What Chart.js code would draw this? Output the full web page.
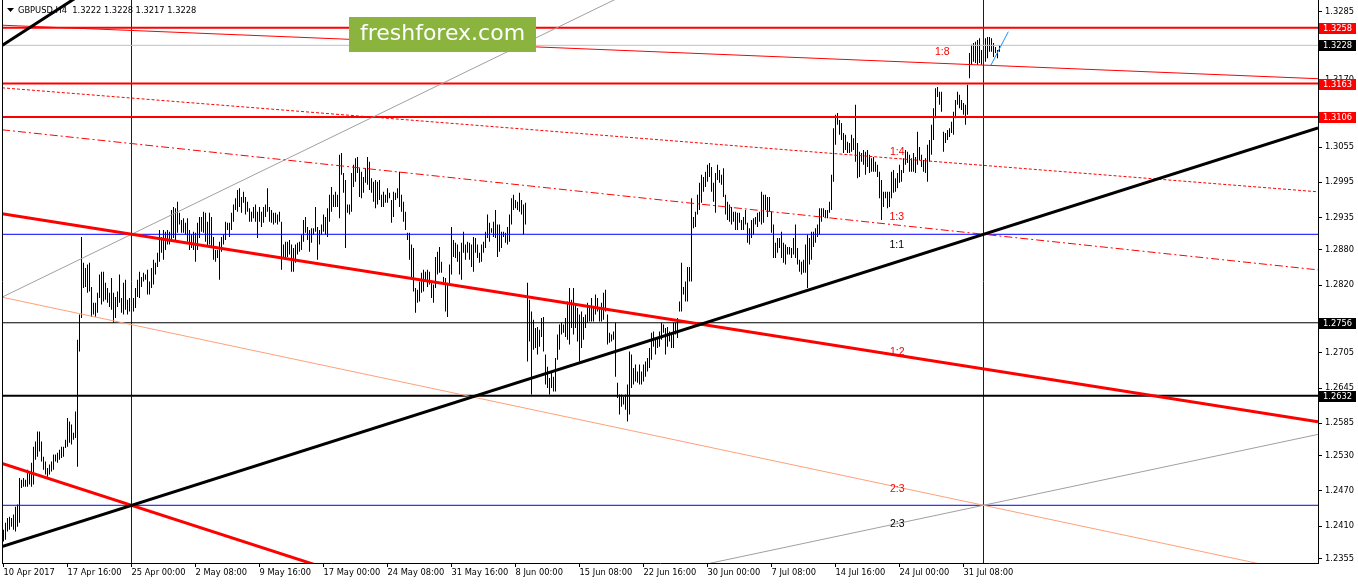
<!DOCTYPE html>
<html>
<head>
<meta charset="utf-8">
<title>GBPUSD,H4</title>
<script src="https://cdn.jsdelivr.net/npm/chart.js@4.4.0/dist/chart.umd.min.js"></script>
<style>
  html, body { margin: 0; padding: 0; background: #fff; }
  #wrap { width: 1358px; height: 584px; position: relative; }
</style>
</head>
<body>
<div id="wrap"><canvas id="gbpChart"></canvas></div>
<script>
// H4 bars (high / low), 10 Apr 08:00 .. 3 Aug 08:00, split by month
const aprHigh = [
  1.2404, 1.2416, 1.2424, 1.2426, 1.2424, 1.2430, 1.2443, 1.2447, 1.2492, 1.2489,
  1.2492, 1.2489, 1.2506, 1.2503, 1.2518, 1.2545, 1.2554, 1.2571, 1.2571, 1.2554,
  1.2528, 1.2520, 1.2509, 1.2515, 1.2520, 1.2532, 1.2532, 1.2535, 1.2540, 1.2545,
  1.2545, 1.2557, 1.2594, 1.2588, 1.2583, 1.2569, 1.2605, 1.2727, 1.2770, 1.2902,
  1.2858, 1.2849, 1.2855, 1.2858, 1.2817, 1.2790, 1.2790, 1.2807, 1.2838, 1.2843,
  1.2843, 1.2824, 1.2815, 1.2807, 1.2832, 1.2807, 1.2800, 1.2809, 1.2838, 1.2798,
  1.2824, 1.2829, 1.2795, 1.2798, 1.2790, 1.2798, 1.2815, 1.2829, 1.2843, 1.2834,
  1.2841, 1.2838, 1.2846, 1.2826, 1.2849, 1.2863, 1.2858, 1.2875, 1.2914, 1.2902,
  1.2914, 1.2911, 1.2914, 1.2911, 1.2948, 1.2953, 1.2951, 1.2962
];
const aprLow = [
  1.2384, 1.2387, 1.2401, 1.2404, 1.2409, 1.2404, 1.2401, 1.2409, 1.2416, 1.2475,
  1.2477, 1.2477, 1.2477, 1.2481, 1.2477, 1.2481, 1.2523, 1.2528, 1.2537, 1.2520,
  1.2506, 1.2498, 1.2494, 1.2498, 1.2503, 1.2506, 1.2520, 1.2518, 1.2523, 1.2526,
  1.2528, 1.2543, 1.2545, 1.2552, 1.2549, 1.2557, 1.2560, 1.2511, 1.2707, 1.2764,
  1.2815, 1.2817, 1.2807, 1.2809, 1.2766, 1.2770, 1.2766, 1.2773, 1.2798, 1.2787,
  1.2792, 1.2795, 1.2790, 1.2783, 1.2778, 1.2756, 1.2764, 1.2783, 1.2790, 1.2773,
  1.2770, 1.2778, 1.2770, 1.2775, 1.2773, 1.2775, 1.2781, 1.2800, 1.2798, 1.2817,
  1.2826, 1.2829, 1.2804, 1.2804, 1.2815, 1.2821, 1.2838, 1.2851, 1.2860, 1.2875,
  1.2863, 1.2880, 1.2889, 1.2889, 1.2897, 1.2900, 1.2894, 1.2909
];
const mayHigh = [
  1.2943, 1.2931, 1.2934, 1.2926, 1.2934, 1.2914, 1.2906, 1.2911, 1.2909, 1.2926,
  1.2936, 1.2936, 1.2945, 1.2943, 1.2928, 1.2943, 1.2936, 1.2902, 1.2880, 1.2880,
  1.2894, 1.2902, 1.2906, 1.2928, 1.2926, 1.2926, 1.2943, 1.2957, 1.2968, 1.2982,
  1.2985, 1.2970, 1.2979, 1.2970, 1.2962, 1.2951, 1.2945, 1.2953, 1.2957, 1.2945,
  1.2953, 1.2945, 1.2953, 1.2957, 1.2985, 1.2953, 1.2948, 1.2943, 1.2943, 1.2940,
  1.2945, 1.2928, 1.2889, 1.2894, 1.2894, 1.2897, 1.2889, 1.2883, 1.2889, 1.2892,
  1.2894, 1.2906, 1.2931, 1.2936, 1.2919, 1.2914, 1.2917, 1.2917, 1.2953, 1.2919,
  1.2914, 1.2923, 1.2940, 1.2936, 1.2951, 1.2974, 1.2987, 1.2974, 1.2979, 1.2974,
  1.3042, 1.3045, 1.3011, 1.2999, 1.2957, 1.2957, 1.3011, 1.3025, 1.3036, 1.3038,
  1.3019, 1.3013, 1.3004, 1.3019, 1.3038, 1.3030, 1.3002, 1.2996, 1.2999, 1.2996,
  1.2999, 1.2974, 1.2979, 1.2974, 1.2985, 1.2977, 1.2965, 1.2979, 1.2977, 1.2985,
  1.3013, 1.2974, 1.2962, 1.2945, 1.2909, 1.2909, 1.2889, 1.2883, 1.2815, 1.2812,
  1.2826, 1.2841, 1.2846, 1.2843, 1.2846, 1.2843, 1.2826, 1.2821, 1.2868, 1.2877,
  1.2885, 1.2860, 1.2834, 1.2832, 1.2824, 1.2855, 1.2919, 1.2897
];
const mayLow = [
  1.2923, 1.2909, 1.2909, 1.2906, 1.2894, 1.2880, 1.2883, 1.2880, 1.2860, 1.2880,
  1.2900, 1.2911, 1.2909, 1.2894, 1.2885, 1.2889, 1.2883, 1.2863, 1.2860, 1.2866,
  1.2829, 1.2877, 1.2889, 1.2897, 1.2914, 1.2902, 1.2914, 1.2928, 1.2948, 1.2945,
  1.2953, 1.2943, 1.2960, 1.2940, 1.2945, 1.2928, 1.2928, 1.2934, 1.2928, 1.2900,
  1.2928, 1.2919, 1.2926, 1.2936, 1.2945, 1.2928, 1.2926, 1.2923, 1.2926, 1.2923,
  1.2928, 1.2846, 1.2866, 1.2863, 1.2868, 1.2872, 1.2843, 1.2843, 1.2858, 1.2872,
  1.2877, 1.2880, 1.2894, 1.2909, 1.2897, 1.2877, 1.2892, 1.2906, 1.2911, 1.2863,
  1.2889, 1.2906, 1.2911, 1.2906, 1.2902, 1.2928, 1.2945, 1.2953, 1.2953, 1.2953,
  1.2934, 1.3008, 1.2977, 1.2883, 1.2943, 1.2940, 1.2945, 1.2987, 1.2996, 1.3011,
  1.2970, 1.2968, 1.2977, 1.2994, 1.2991, 1.2982, 1.2977, 1.2962, 1.2951, 1.2957,
  1.2965, 1.2953, 1.2953, 1.2960, 1.2960, 1.2968, 1.2926, 1.2936, 1.2965, 1.2968,
  1.2953, 1.2945, 1.2928, 1.2914, 1.2897, 1.2863, 1.2834, 1.2809, 1.2773, 1.2790,
  1.2792, 1.2807, 1.2809, 1.2826, 1.2817, 1.2821, 1.2798, 1.2790, 1.2815, 1.2838,
  1.2841, 1.2841, 1.2824, 1.2775, 1.2766, 1.2821, 1.2838, 1.2868
];
const junHigh = [
  1.2892, 1.2889, 1.2877, 1.2892, 1.2911, 1.2889, 1.2894, 1.2892, 1.2889, 1.2902,
  1.2900, 1.2889, 1.2875, 1.2889, 1.2894, 1.2911, 1.2940, 1.2926, 1.2917, 1.2928,
  1.2948, 1.2923, 1.2923, 1.2911, 1.2911, 1.2909, 1.2919, 1.2940, 1.2968, 1.2974,
  1.2965, 1.2962, 1.2977, 1.2965, 1.2957, 1.2960, 1.2824, 1.2795, 1.2775, 1.2761,
  1.2747, 1.2749, 1.2744, 1.2764, 1.2766, 1.2702, 1.2681, 1.2662, 1.2671, 1.2664,
  1.2696, 1.2736, 1.2753, 1.2756, 1.2753, 1.2764, 1.2792, 1.2815, 1.2795, 1.2815,
  1.2787, 1.2781, 1.2770, 1.2775, 1.2766, 1.2770, 1.2790, 1.2783, 1.2798, 1.2783,
  1.2804, 1.2798, 1.2783, 1.2790, 1.2807, 1.2812, 1.2770, 1.2739, 1.2736, 1.2741,
  1.2756, 1.2654, 1.2634, 1.2634, 1.2630, 1.2634, 1.2651, 1.2707, 1.2702, 1.2679,
  1.2685, 1.2673, 1.2685, 1.2673, 1.2685, 1.2690, 1.2696, 1.2713, 1.2739, 1.2741,
  1.2727, 1.2732, 1.2741, 1.2756, 1.2753, 1.2747, 1.2749, 1.2741, 1.2739, 1.2756,
  1.2756, 1.2764, 1.2792, 1.2858, 1.2817, 1.2826, 1.2851, 1.2851, 1.2968, 1.2936,
  1.2945, 1.2974, 1.2994, 1.3008, 1.3004, 1.3013, 1.3025, 1.3028, 1.3021, 1.2994,
  1.3011, 1.3025
];
const junLow = [
  1.2866, 1.2860, 1.2838, 1.2829, 1.2875, 1.2863, 1.2875, 1.2863, 1.2851, 1.2843,
  1.2875, 1.2866, 1.2858, 1.2860, 1.2875, 1.2883, 1.2900, 1.2894, 1.2909, 1.2902,
  1.2900, 1.2868, 1.2877, 1.2883, 1.2902, 1.2892, 1.2889, 1.2894, 1.2923, 1.2948,
  1.2951, 1.2948, 1.2945, 1.2940, 1.2906, 1.2923, 1.2690, 1.2724, 1.2634, 1.2710,
  1.2713, 1.2702, 1.2715, 1.2732, 1.2707, 1.2651, 1.2645, 1.2634, 1.2645, 1.2639,
  1.2639, 1.2693, 1.2710, 1.2736, 1.2739, 1.2732, 1.2727, 1.2719, 1.2747, 1.2736,
  1.2747, 1.2724, 1.2690, 1.2713, 1.2727, 1.2747, 1.2756, 1.2758, 1.2758, 1.2758,
  1.2770, 1.2775, 1.2758, 1.2758, 1.2761, 1.2775, 1.2719, 1.2722, 1.2724, 1.2727,
  1.2664, 1.2628, 1.2600, 1.2613, 1.2617, 1.2608, 1.2588, 1.2600, 1.2645, 1.2651,
  1.2656, 1.2654, 1.2651, 1.2651, 1.2656, 1.2664, 1.2673, 1.2679, 1.2693, 1.2715,
  1.2702, 1.2713, 1.2715, 1.2727, 1.2739, 1.2702, 1.2715, 1.2724, 1.2713, 1.2713,
  1.2736, 1.2730, 1.2775, 1.2775, 1.2804, 1.2792, 1.2792, 1.2826, 1.2826, 1.2917,
  1.2919, 1.2940, 1.2948, 1.2960, 1.2979, 1.2987, 1.2996, 1.3004, 1.2979, 1.2962,
  1.2943, 1.2999
];
const julHigh = [
  1.3016, 1.3008, 1.3019, 1.2974, 1.2962, 1.2957, 1.2953, 1.2945, 1.2945, 1.2943,
  1.2943, 1.2931, 1.2936, 1.2948, 1.2926, 1.2917, 1.2931, 1.2934, 1.2936, 1.2943,
  1.2945, 1.2979, 1.2974, 1.2974, 1.2970, 1.2970, 1.2945, 1.2923, 1.2892, 1.2900,
  1.2900, 1.2911, 1.2892, 1.2889, 1.2885, 1.2885, 1.2883, 1.2900, 1.2923, 1.2883,
  1.2863, 1.2860, 1.2863, 1.2889, 1.2906, 1.2900, 1.2911, 1.2911, 1.2917, 1.2923,
  1.2951, 1.2951, 1.2951, 1.2948, 1.2948, 1.2962, 1.3008, 1.3087, 1.3110, 1.3113,
  1.3101, 1.3096, 1.3079, 1.3076, 1.3064, 1.3062, 1.3076, 1.3070, 1.3127, 1.3062,
  1.3047, 1.3045, 1.3050, 1.3047, 1.3050, 1.3042, 1.3036, 1.3038, 1.3030, 1.3025,
  1.3013, 1.2999, 1.2979, 1.2979, 1.2979, 1.2979, 1.3013, 1.3016, 1.3002, 1.3011,
  1.3025, 1.3016, 1.3036, 1.3050, 1.3047, 1.3042, 1.3036, 1.3045, 1.3038, 1.3081,
  1.3055, 1.3042, 1.3033, 1.3036, 1.3059, 1.3067, 1.3093, 1.3121, 1.3155, 1.3157,
  1.3149, 1.3149, 1.3081, 1.3079, 1.3084, 1.3087, 1.3098, 1.3115, 1.3135, 1.3149,
  1.3144, 1.3135, 1.3130, 1.3127, 1.3161, 1.3215
];
const julLow = [
  1.2994, 1.2991, 1.2970, 1.2940, 1.2931, 1.2928, 1.2923, 1.2928, 1.2914, 1.2914,
  1.2926, 1.2914, 1.2914, 1.2923, 1.2892, 1.2889, 1.2900, 1.2906, 1.2923, 1.2919,
  1.2928, 1.2923, 1.2926, 1.2948, 1.2936, 1.2945, 1.2909, 1.2866, 1.2866, 1.2875,
  1.2883, 1.2866, 1.2858, 1.2855, 1.2872, 1.2872, 1.2866, 1.2872, 1.2866, 1.2855,
  1.2843, 1.2838, 1.2841, 1.2841, 1.2815, 1.2855, 1.2863, 1.2885, 1.2892, 1.2902,
  1.2906, 1.2928, 1.2936, 1.2934, 1.2934, 1.2943, 1.2948, 1.2996, 1.3059, 1.3093,
  1.3076, 1.3067, 1.3045, 1.3050, 1.3045, 1.3045, 1.3047, 1.3050, 1.3030, 1.3002,
  1.3004, 1.3030, 1.3025, 1.3008, 1.3021, 1.3011, 1.3013, 1.3013, 1.3013, 1.3004,
  1.2968, 1.2931, 1.2953, 1.2968, 1.2951, 1.2953, 1.2968, 1.2977, 1.2979, 1.2985,
  1.2994, 1.2996, 1.3011, 1.3025, 1.3028, 1.3013, 1.3013, 1.3013, 1.3011, 1.3025,
  1.3033, 1.3021, 1.3013, 1.3011, 1.2996, 1.3030, 1.3042, 1.3067, 1.3104, 1.3140,
  1.3127, 1.3115, 1.3047, 1.3062, 1.3067, 1.3072, 1.3079, 1.3076, 1.3104, 1.3127,
  1.3121, 1.3118, 1.3110, 1.3093, 1.3110, 1.3172
];
const augHigh = [
  1.3229, 1.3232, 1.3234, 1.3237, 1.3240, 1.3220, 1.3212, 1.3240, 1.3242, 1.3242,
  1.3240, 1.3232, 1.3225, 1.3220, 1.3228
];
const augLow = [
  1.3195, 1.3200, 1.3198, 1.3195, 1.3198, 1.3195, 1.3189, 1.3200, 1.3206, 1.3217,
  1.3217, 1.3208, 1.3215, 1.3206, 1.3217
];

// time axis: one label every 32 bars
const timeLabels = [
  "10 Apr 2017", "17 Apr 16:00", "25 Apr 00:00", "2 May 08:00", "9 May 16:00",
  "17 May 00:00", "24 May 08:00", "31 May 16:00", "8 Jun 00:00", "15 Jun 08:00",
  "22 Jun 16:00", "30 Jun 00:00", "7 Jul 08:00", "14 Jul 16:00", "24 Jul 00:00",
  "31 Jul 08:00"
];
const barsPerLabel = 32;

const priceTicks = [
  1.2355, 1.2410, 1.2470, 1.2530, 1.2585, 1.2645, 1.2705, 1.2820,
  1.2880, 1.2935, 1.2995, 1.3055, 1.3170, 1.3225, 1.3285
];

const symbolLine = "GBPUSD,H4  1.3222 1.3228 1.3217 1.3228";

// horizontal levels
const redLevels = [1.3258, 1.3163, 1.3106];
const blackLevels = [1.2756, 1.2632];
const bidLevel = 1.3228;
const boxPrices = [1.29065, 1.24455];
const boxBars = [64, 490];

// trend lines: [bar, price] end points
const mainTrend = [[-0.75, 1.23754], [657.25, 1.30875]];
const steepTrend = [[-0.75, 1.32277], [40, 1.33172]];
const lowerRedLine = [[-0.75, 1.25169], [170, 1.23287]];
const mainRedLine = [[-0.75, 1.29413], [657.25, 1.25876]];
const fan18 = [[-0.75, 1.32622], [657.25, 1.31712]];
const fan14 = [[-0.75, 1.31557], [657.25, 1.29788]];
const fan13 = [[-0.75, 1.30843], [657.25, 1.28460]];
const fan23 = [[-0.75, 1.27995], [657.25, 1.23249]];
const grayUp = [[-0.75, 1.27995], [320, 1.33295]];
const grayLow = [[300, 1.23085], [657.25, 1.25661]];
const lastSwing = [[493.75, 1.31945], [502.4, 1.32512]];

// fan text
const fanText = ["1:8", "1:4", "1:3", "1:1", "1:2", "2:3", "2:3"];
const fanBar = [465.75, 443.25, 443, 443, 443.25, 443.25, 443.25];
const fanPrice = [1.32167, 1.30457, 1.29351, 1.28883, 1.27054, 1.24724, 1.24128];

// ---------------------------------------------------------------
const xMin = -0.75, xMax = 657.25;
const yMin = 1.234732, yMax = 1.33051;
const FONT = "DejaVu Sans";
const FONT_SIZE = 8.3;

Chart.defaults.font.family = FONT;
Chart.defaults.font.size = FONT_SIZE;
Chart.defaults.color = "#000";

const highs = [].concat(aprHigh, mayHigh, junHigh, julHigh, augHigh);
const lows = [].concat(aprLow, mayLow, junLow, julLow, augLow);
const barData = highs.map((h, i) => ({ x: i, y: [lows[i], h] }));

function seg(points, color, width, dash) {
  return {
    type: "line",
    data: points.map((p) => ({ x: p[0], y: p[1] })),
    borderColor: color,
    borderWidth: width,
    borderDash: dash || [],
    pointRadius: 0,
    pointHoverRadius: 0,
    fill: false,
    tension: 0,
    clip: 0,
    order: 1,
  };
}
function hline(price, color, width) {
  return seg([[xMin, price], [xMax, price]], color, width);
}
function vline(bar, color, width) {
  return seg([[bar, yMin], [bar, yMax]], color, width);
}

const datasets = [
  seg(lastSwing, "#1E90FF", 1),
  seg(mainTrend, "#000000", 3),
  seg(steepTrend, "#000000", 3),
  seg(mainRedLine, "#FF0000", 3),
  seg(lowerRedLine, "#FF0000", 3),
  seg(fan18, "#FF0000", 1),
  seg(fan14, "#FF0000", 1, [3, 2]),
  seg(fan13, "#FF0000", 1, [8, 3, 2, 3]),
  seg(fan23, "#FFA07A", 1),
  seg(grayUp, "#A0A0A0", 1),
  seg(grayLow, "#A0A0A0", 1),
];
redLevels.forEach((p) => datasets.push(hline(p, "#FF0000", 2)));
datasets.push(hline(blackLevels[0], "#000000", 1));
datasets.push(hline(blackLevels[1], "#000000", 2));
datasets.push(hline(bidLevel, "#C0C0C0", 1));
boxPrices.forEach((p) => datasets.push(hline(p, "#0000FF", 1)));
boxBars.forEach((b) => datasets.push(vline(b, "#0000FF", 1)));

datasets.push({
  type: "bar",
  data: barData,
  backgroundColor: "#000000",
  borderWidth: 0,
  barThickness: 1,
  inflateAmount: 0,
  grouped: false,
  order: 2,
});

// price boxes, fan labels, header, logo
const overlay = {
  id: "overlay",
  afterDraw(chart) {
    const { ctx, chartArea: a, scales } = chart;
    const x = scales.x, y = scales.y;
    ctx.save();

    ctx.strokeStyle = "#000";
    ctx.lineWidth = 1;
    ctx.beginPath();
    ctx.moveTo(a.left + 0.5, 0);
    ctx.lineTo(a.left + 0.5, a.bottom);
    ctx.stroke();

    const boxes = [];
    redLevels.forEach((p) => boxes.push([p, "#FF0000"]));
    blackLevels.forEach((p) => boxes.push([p, "#000000"]));
    boxes.push([bidLevel, "#000000"]);
    ctx.font = FONT_SIZE + "px '" + FONT + "'";
    ctx.textBaseline = "middle";
    ctx.textAlign = "left";
    boxes.forEach(([p, c]) => {
      const py = Math.round(y.getPixelForValue(p));
      ctx.fillStyle = c;
      ctx.fillRect(a.right + 1, py - 5, 37, 11);
      ctx.fillStyle = "#fff";
      ctx.fillText(p.toFixed(4), a.right + 5, py + 0.5);
    });

    ctx.font = "10.5px 'Liberation Sans'";
    const fanColors = ["#FF0000", "#FF0000", "#FF0000", "#000000", "#FF0000", "#FF0000", "#000000"];
    fanText.forEach((t, k) => {
      ctx.fillStyle = fanColors[k];
      ctx.fillText(t, x.getPixelForValue(fanBar[k]), y.getPixelForValue(fanPrice[k]));
    });

    ctx.fillStyle = "#000";
    ctx.beginPath();
    ctx.moveTo(7, 8);
    ctx.lineTo(14, 8);
    ctx.lineTo(10.5, 12);
    ctx.closePath();
    ctx.fill();
    ctx.font = FONT_SIZE + "px '" + FONT + "'";
    ctx.fillText(symbolLine, 18, 10.5);

    ctx.fillStyle = "#8AB43E";
    ctx.fillRect(349, 17, 187, 35);
    ctx.fillStyle = "#fff";
    ctx.textAlign = "center";
    ctx.font = "22px '" + FONT + "'";
    ctx.fillText("freshforex.com", 442.5, 34.5);
    ctx.restore();
  },
};

new Chart(document.getElementById("gbpChart"), {
  type: "bar",
  data: { datasets: datasets },
  options: {
    responsive: true,
    maintainAspectRatio: false,
    animation: false,
    devicePixelRatio: 1,
    layout: { padding: { left: 2, top: 0, right: 0, bottom: 0 } },
    plugins: { legend: { display: false }, tooltip: { enabled: false } },
    events: [],
    scales: {
      x: {
        type: "linear",
        min: xMin,
        max: xMax,
        offset: false,
        grid: { drawOnChartArea: false, drawTicks: true, tickLength: 4, color: "#000", offset: false },
        border: { display: true, color: "#000", width: 1 },
        ticks: {
          autoSkip: false,
          maxRotation: 0,
          minRotation: 0,
          align: "start",
          padding: 1,
          color: "#000",
          callback: (v) => timeLabels[Math.round(v / barsPerLabel)],
        },
        afterBuildTicks: (s) => {
          s.ticks = timeLabels.map((_, k) => ({ value: k * barsPerLabel }));
        },
        afterFit: (s) => {
          s.height = 21;
          s.paddingLeft = 0;
          s.paddingRight = 0;
        },
      },
      y: {
        type: "linear",
        position: "right",
        min: yMin,
        max: yMax,
        grid: { drawOnChartArea: false, drawTicks: true, tickLength: 4, color: "#000" },
        border: { display: true, color: "#000", width: 1 },
        ticks: { padding: 3, color: "#000", callback: (v) => v.toFixed(4) },
        afterBuildTicks: (s) => {
          s.ticks = priceTicks.map((v) => ({ value: v }));
        },
        afterFit: (s) => {
          s.width = 40;
          s.paddingTop = 0;
          s.paddingBottom = 0;
        },
      },
    },
  },
  plugins: [overlay],
});
</script>
</body>
</html>
